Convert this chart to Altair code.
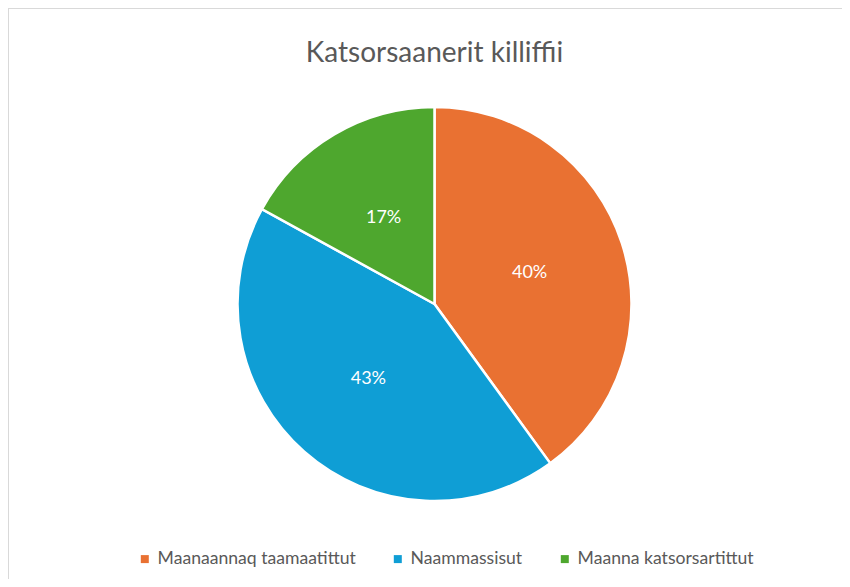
import altair as alt
import pandas as pd

title_text = "Katsorsaanerit killiffii"
categories = ["Maanaannaq taamaatittut", "Naammassisut", "Maanna katsorsartittut"]
values = [40, 43, 17]
colors = ["#E97132", "#0F9ED5", "#4EA72E"]

total = sum(values)
df = pd.DataFrame({
    "cat": categories,
    "val": values,
    "order": list(range(len(categories))),
    "label": [f"{round(v * 100 / total)}%" for v in values],
})

W, H = 834, 571
CX, CY, R = 426.5, 296, 197
FONT = "Lato, sans-serif"

base = alt.Chart(df).encode(
    theta=alt.Theta("val:Q", stack=True),
    order=alt.Order("order:Q"),
    x=alt.value(CX),
    y=alt.value(CY),
)

pie = base.mark_arc(radius=R, stroke="white", strokeWidth=2.5).encode(
    color=alt.Color(
        "cat:N",
        scale=alt.Scale(domain=categories, range=colors),
        sort=categories,
        legend=alt.Legend(
            title=None,
            orient="none",
            direction="horizontal",
            legendX=128,
            legendY=542,
            symbolType="square",
            symbolSize=64,
            symbolStrokeWidth=0,
            labelFont=FONT,
            labelFontSize=17.6,
            labelColor="#595959",
            labelOffset=4,
            columnPadding=33,
            padding=0,
            labelLimit=400,
        ),
    )
)

labels = base.mark_text(radius=100, fontSize=18, font=FONT, color="white").encode(
    text="label:N"
)

title = alt.Chart(pd.DataFrame({"t": [title_text]})).mark_text(
    fontSize=28, font=FONT, color="#595959", baseline="alphabetic", align="center"
).encode(text="t:N", x=alt.value(CX), y=alt.value(54))

frame_top = alt.Chart(pd.DataFrame({"t": [0]})).mark_rule(
    color="#D9D9D9", strokeWidth=2
).encode(x=alt.value(0), x2=alt.value(W), y=alt.value(0))
frame_left = alt.Chart(pd.DataFrame({"t": [0]})).mark_rule(
    color="#D9D9D9", strokeWidth=2
).encode(x=alt.value(0), y=alt.value(0), y2=alt.value(H))

chart = alt.layer(frame_top, frame_left, pie, labels, title).properties(
    width=W, height=H, autosize=alt.AutoSizeParams(type="none"), padding=0
).configure_view(stroke=None).configure(background="white")

chart.save("out.html", embed_options={"renderer": "svg", "actions": False})
